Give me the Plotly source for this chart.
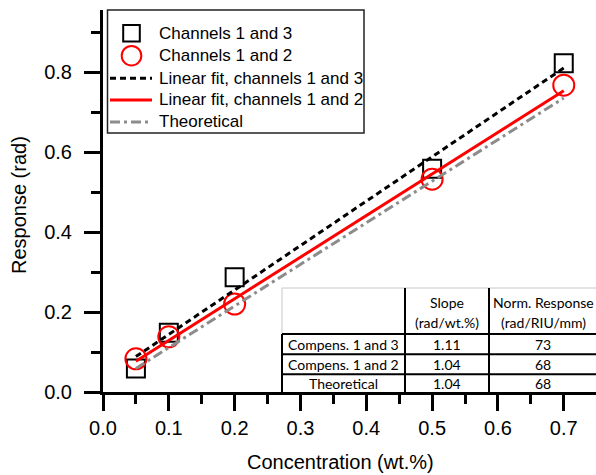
import plotly.graph_objects as go

# ---- measured responses -------------------------------------------------
concentration = [0.05, 0.1, 0.2, 0.5, 0.7]          # wt.%
resp_ch13 = [0.059, 0.148, 0.287, 0.558, 0.822]     # rad, channels 1 and 3
resp_ch12 = [0.083, 0.138, 0.220, 0.532, 0.767]     # rad, channels 1 and 2

# ---- linear fits / theory (slope in rad/wt.%, intercept in rad) --------
fit_x = [0.05, 0.7]
slope_ch13, icpt_ch13 = 1.11, 0.033
slope_ch12, icpt_ch12 = 1.04, 0.025
slope_theo, icpt_theo = 1.04, 0.007

# ---- legend labels -------------------------------------------------------
legend_labels = ["Channels 1 and 3", "Channels 1 and 2",
                 "Linear fit, channels 1 and 3", "Linear fit, channels 1 and 2",
                 "Theoretical"]

# ---- summary table -------------------------------------------------------
table_header = [["", ""], ["Slope", "(rad/wt.%)"], ["Norm. Response", "(rad/RIU/mm)"]]
table_rows = ["Compens. 1 and 3", "Compens. 1 and 2", "Theoretical"]
table_slope = ["1.11", "1.04", "1.04"]
table_norm = ["73", "68", "68"]

# ---- figure geometry (pixels) -------------------------------------------
W, H = 596, 475
ML, MR, MT, MB = 103, 0, 10, 83
PW, PH = W - ML - MR, H - MT - MB


def px_x(p):
    return (p - ML) / PW


def px_y(p):
    return (H - MB - p) / PH


FONT = "Liberation Sans, Arial, sans-serif"
TFONT = "Lato, Open Sans, sans-serif"

# styles shared by the traces and their legend samples
SQ = dict(color="black", width=2)
CI = dict(color="red", width=2)
FIT13 = dict(color="black", width=3, dash="6px,4px")
FIT12 = dict(color="red", width=3)
THEO = dict(color="#8c8c8c", width=3, dash="10px,4px,3px,4px")

fig = go.Figure()

fig.add_trace(go.Scatter(
    x=concentration, y=resp_ch13, mode="markers", name=legend_labels[0],
    marker=dict(symbol="square-open", size=18, color="black", line=SQ),
))
fig.add_trace(go.Scatter(
    x=concentration, y=resp_ch12, mode="markers", name=legend_labels[1],
    marker=dict(symbol="circle-open", size=21, color="red", line=CI),
))
fig.add_trace(go.Scatter(
    x=fit_x, y=[slope_ch13 * x + icpt_ch13 for x in fit_x], mode="lines",
    name=legend_labels[2], line=FIT13,
))
fig.add_trace(go.Scatter(
    x=fit_x, y=[slope_ch12 * x + icpt_ch12 for x in fit_x], mode="lines",
    name=legend_labels[3], line=FIT12,
))
fig.add_trace(go.Scatter(
    x=fit_x, y=[slope_theo * x + icpt_theo for x in fit_x], mode="lines",
    name=legend_labels[4], line=THEO,
))

shapes = []
annotations = []


def rect(x0, y0, x1, y1, line, fill="rgba(0,0,0,0)"):
    shapes.append(dict(type="rect", xref="paper", yref="paper",
                       x0=px_x(x0), x1=px_x(x1), y0=px_y(y1), y1=px_y(y0),
                       fillcolor=fill, line=line, layer="above"))


def seg(x0, y0, x1, y1, line):
    shapes.append(dict(type="line", xref="paper", yref="paper",
                       x0=px_x(x0), x1=px_x(x1), y0=px_y(y0), y1=px_y(y1),
                       line=line, layer="above"))


def text(txt, cx, cy, family, size, anchor="center", angle=0):
    annotations.append(dict(text=txt, xref="paper", yref="paper",
                            x=px_x(cx), y=px_y(cy), showarrow=False,
                            xanchor=anchor, yanchor="middle", textangle=angle,
                            font=dict(family=family, size=size, color="black")))


# ---- legend box ----------------------------------------------------------
rect(107.5, 10, 364, 133, dict(color="#222222", width=1.5), fill="white")
leg_rows = [33.3, 55.7, 78.3, 100, 122]
mx = 131.5
rect(mx - 8.3, leg_rows[0] - 8.3, mx + 8.3, leg_rows[0] + 8.3, SQ)
shapes.append(dict(type="circle", xref="paper", yref="paper",
                   x0=px_x(mx - 9.8), x1=px_x(mx + 9.8),
                   y0=px_y(leg_rows[1] + 9.8), y1=px_y(leg_rows[1] - 9.8),
                   line=CI, layer="above"))
seg(110, leg_rows[2], 152, leg_rows[2], FIT13)
seg(110, leg_rows[3], 152, leg_rows[3], FIT12)
seg(110, leg_rows[4], 152, leg_rows[4], THEO)
for lab, ry in zip(legend_labels, leg_rows):
    text(lab, 156.5, ry, FONT, 17, anchor="left")

# ---- summary table -------------------------------------------------------
col_px = [282, 405, 489, 600]
row_px = [288, 334, 354.3, 374.3, 392]
rect(col_px[0], row_px[0], col_px[3], row_px[4], dict(width=0), fill="white")
light = dict(color="#c8c8c8", width=1)
dark = dict(color="black", width=2)
seg(col_px[0], row_px[0], col_px[3], row_px[0], light)
seg(col_px[0], row_px[0], col_px[0], row_px[1], light)
for r in row_px[1:4]:
    seg(col_px[0], r, col_px[3], r, dark)
seg(col_px[0], row_px[1], col_px[0], row_px[4] + 1, dark)
for c in col_px[1:3]:
    seg(c, row_px[0], c, row_px[4] + 1, dark)

col_c = [(col_px[0] + col_px[1]) / 2, (col_px[1] + col_px[2]) / 2, 543]
for ci, lines in enumerate(table_header):
    for li, t in enumerate(lines):
        if t:
            text(t, col_c[ci], [302, 322][li], TFONT, 14)
for ri in range(3):
    cy = (row_px[ri + 1] + row_px[ri + 2]) / 2
    text(table_rows[ri], col_c[0], cy, TFONT, 14)
    text(table_slope[ri], col_c[1], cy, TFONT, 14)
    text(table_norm[ri], col_c[2], cy, TFONT, 14)

# ---- axis titles ---------------------------------------------------------
text("Concentration (wt.%)", 340, 462, FONT, 20)
text("Response (rad)", 19, 205, FONT, 20, angle=-90)

axis_common = dict(
    showline=True, linecolor="black", linewidth=3,
    ticks="outside", ticklen=16, tickwidth=3, tickcolor="black",
    showgrid=False, zeroline=False,
    tickfont=dict(family=FONT, size=20, color="black"),
)

fig.update_layout(
    width=W, height=H,
    margin=dict(l=ML, r=MR, t=MT, b=MB, pad=0),
    paper_bgcolor="white", plot_bgcolor="white",
    font=dict(family=FONT, color="black"),
    xaxis=dict(range=[0, 0.749], tickmode="linear", tick0=0, dtick=0.1,
               tickformat=".1f",
               minor=dict(dtick=0.05, ticks="outside", ticklen=9, tickwidth=3,
                          tickcolor="black"),
               **axis_common),
    yaxis=dict(range=[0, 0.955], tickmode="linear", tick0=0, dtick=0.2,
               tickformat=".1f", ticklabelstandoff=8,
               minor=dict(dtick=0.1, ticks="outside", ticklen=9, tickwidth=3,
                          tickcolor="black"),
               **axis_common),
    shapes=shapes,
    annotations=annotations,
    showlegend=False,
)

fig.write_html("out.html")
